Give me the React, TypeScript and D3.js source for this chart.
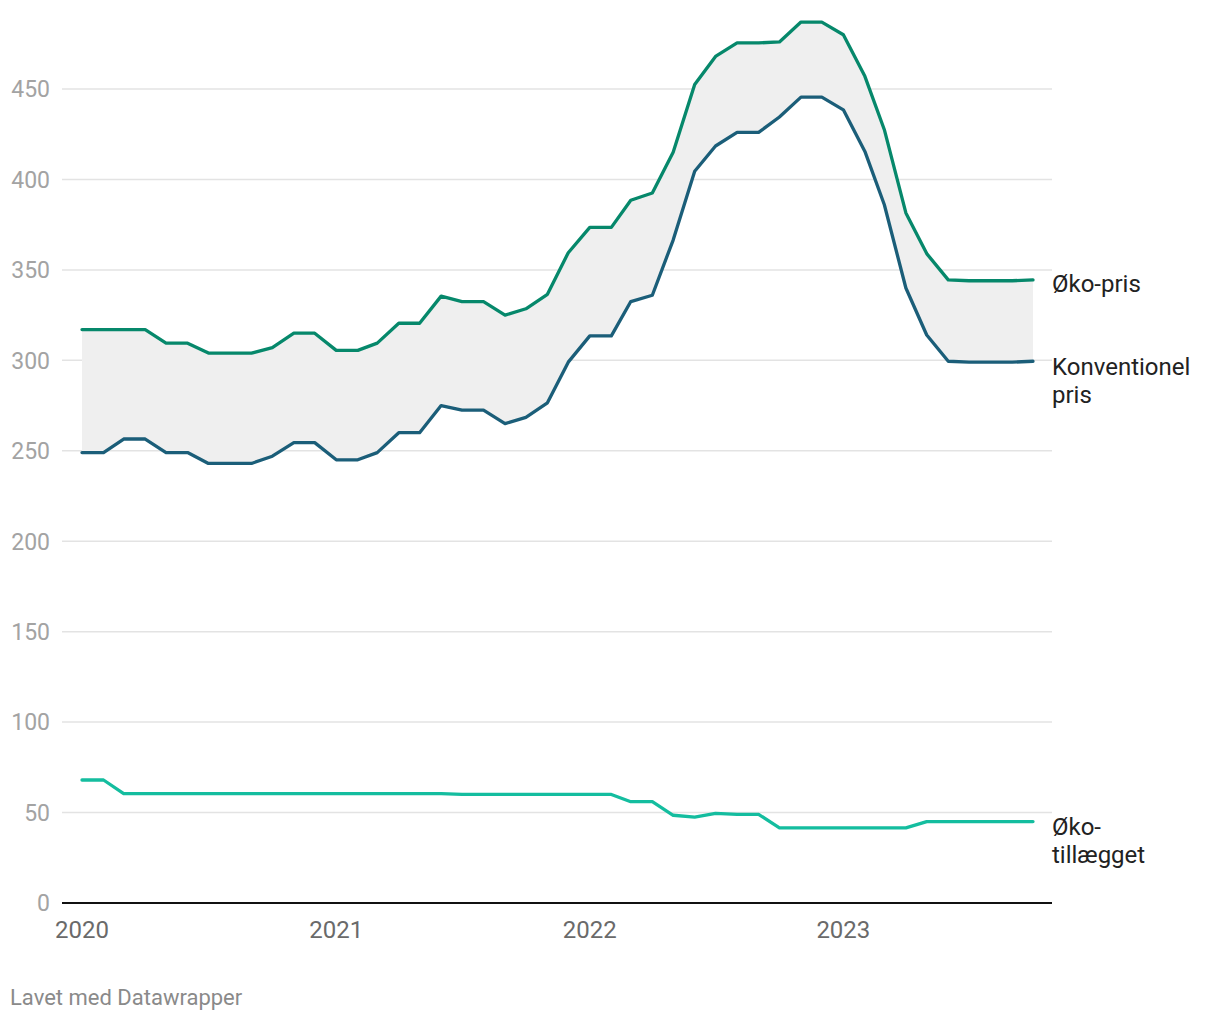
import { useMemo } from "react";
import * as d3 from "d3";

const width = 1220;
const height = 1020;

const startMonth = new Date(2020, 0, 1);
const monthCount = 46;

// Øko-pris (kr.)
const okoPris = [
  317, 317, 317, 317, 309.5, 309.5, 304, 304, 304, 307, 315, 315,
  305.5, 305.5, 309.5, 320.5, 320.5, 335.5, 332.5, 332.5, 325, 328.5, 336.5, 359.5,
  373.5, 373.5, 388.5, 392.5, 415, 452.5, 468, 475.5, 475.5, 476, 487, 487,
  480, 457, 427.5, 381.5, 359, 344.5, 344, 344, 344, 344.5,
];

// Konventionel pris (kr.)
const konvPris = [
  249, 249, 256.5, 256.5, 249, 249, 243, 243, 243, 247, 254.5, 254.5,
  245, 245, 249, 260, 260, 275, 272.5, 272.5, 265, 268.5, 276.5, 299,
  313.5, 313.5, 332.5, 336, 366.5, 404.5, 418.5, 426, 426, 434.5, 445.5, 445.5,
  438.5, 415.5, 386, 340, 314, 299.5, 299, 299, 299, 299.5,
];

// Øko-tillægget (kr.)
const okoTillaeg = [
  68, 68, 60.5, 60.5, 60.5, 60.5, 60.5, 60.5, 60.5, 60.5, 60.5, 60.5,
  60.5, 60.5, 60.5, 60.5, 60.5, 60.5, 60, 60, 60, 60, 60, 60,
  60, 60, 56, 56, 48.5, 47.5, 49.5, 49, 49, 41.5, 41.5, 41.5,
  41.5, 41.5, 41.5, 41.5, 45, 45, 45, 45, 45, 45,
];

const yTicks = [0, 50, 100, 150, 200, 250, 300, 350, 400, 450];
const xTicks = [2020, 2021, 2022, 2023];

const colors = {
  oko: "#06886b",
  konv: "#1b5e79",
  tillaeg: "#14bd9f",
  band: "#efefef",
  grid: "#e3e3e3",
};

const fontFamily = "Roboto, 'Noto Sans', sans-serif";

export default function App() {
  const months = useMemo(
    () => d3.range(monthCount).map((i) => d3.timeMonth.offset(startMonth, i)),
    [],
  );

  const x = d3
    .scaleTime()
    .domain([startMonth, months[monthCount - 1]])
    .range([82, 1033]);
  const y = d3.scaleLinear().domain([0, 450]).range([903, 89]);

  const line = d3
    .line<number>()
    .x((_, i) => x(months[i]))
    .y((d) => y(d));

  // båndet mellem øko-pris og konventionel pris
  const area = d3
    .area<number>()
    .x((_, i) => x(months[i]))
    .y0((_, i) => y(konvPris[i]))
    .y1((d) => y(d));

  const plotLeft = 62;
  const plotRight = 1052;
  const last = monthCount - 1;
  const labelX = 1052;
  const lineWidth = 3.3;

  return (
    <svg
      width={width}
      height={height}
      style={{ position: "absolute", left: 0, top: 0, background: "#fff" }}
      fontFamily={fontFamily}
    >
      {/* gitterlinjer og y-labels */}
      {yTicks.map((t) => (
        <g key={t}>
          {t > 0 && (
            <line
              x1={plotLeft}
              x2={plotRight}
              y1={y(t)}
              y2={y(t)}
              stroke={colors.grid}
              strokeWidth={1.5}
            />
          )}
          <text
            x={50}
            y={y(t)}
            dy="0.36em"
            textAnchor="end"
            fill="#a3a3a3"
            fontSize={23}
          >
            {t}
          </text>
        </g>
      ))}

      <path d={area(okoPris) ?? ""} fill={colors.band} />

      <path
        d={line(okoTillaeg) ?? ""}
        fill="none"
        stroke={colors.tillaeg}
        strokeWidth={lineWidth}
        strokeLinejoin="round"
        strokeLinecap="round"
      />
      <path
        d={line(konvPris) ?? ""}
        fill="none"
        stroke={colors.konv}
        strokeWidth={lineWidth}
        strokeLinejoin="round"
        strokeLinecap="round"
      />
      <path
        d={line(okoPris) ?? ""}
        fill="none"
        stroke={colors.oko}
        strokeWidth={lineWidth}
        strokeLinejoin="round"
        strokeLinecap="round"
      />

      {/* x-akse */}
      <line
        x1={plotLeft}
        x2={plotRight}
        y1={y(0)}
        y2={y(0)}
        stroke="#111"
        strokeWidth={2}
      />
      {xTicks.map((yr) => (
        <text
          key={yr}
          x={x(new Date(yr, 0, 1))}
          y={938}
          textAnchor="middle"
          fill="#6a6a6a"
          fontSize={24}
        >
          {yr}
        </text>
      ))}

      {/* serie-labels */}
      <text x={labelX} y={y(okoPris[last]) + 12} fill="#222" fontSize={24}>
        Øko-pris
      </text>
      <text x={labelX} y={y(konvPris[last]) + 14} fill="#222" fontSize={24}>
        <tspan x={labelX}>Konventionel</tspan>
        <tspan x={labelX} dy={28}>
          pris
        </tspan>
      </text>
      <text x={labelX} y={y(okoTillaeg[last]) + 13.5} fill="#222" fontSize={24}>
        <tspan x={labelX}>Øko-</tspan>
        <tspan x={labelX} dy={28}>
          tillægget
        </tspan>
      </text>

      <text x={10} y={1005} fill="#8a8a8a" fontSize={22}>
        Lavet med Datawrapper
      </text>
    </svg>
  );
}
